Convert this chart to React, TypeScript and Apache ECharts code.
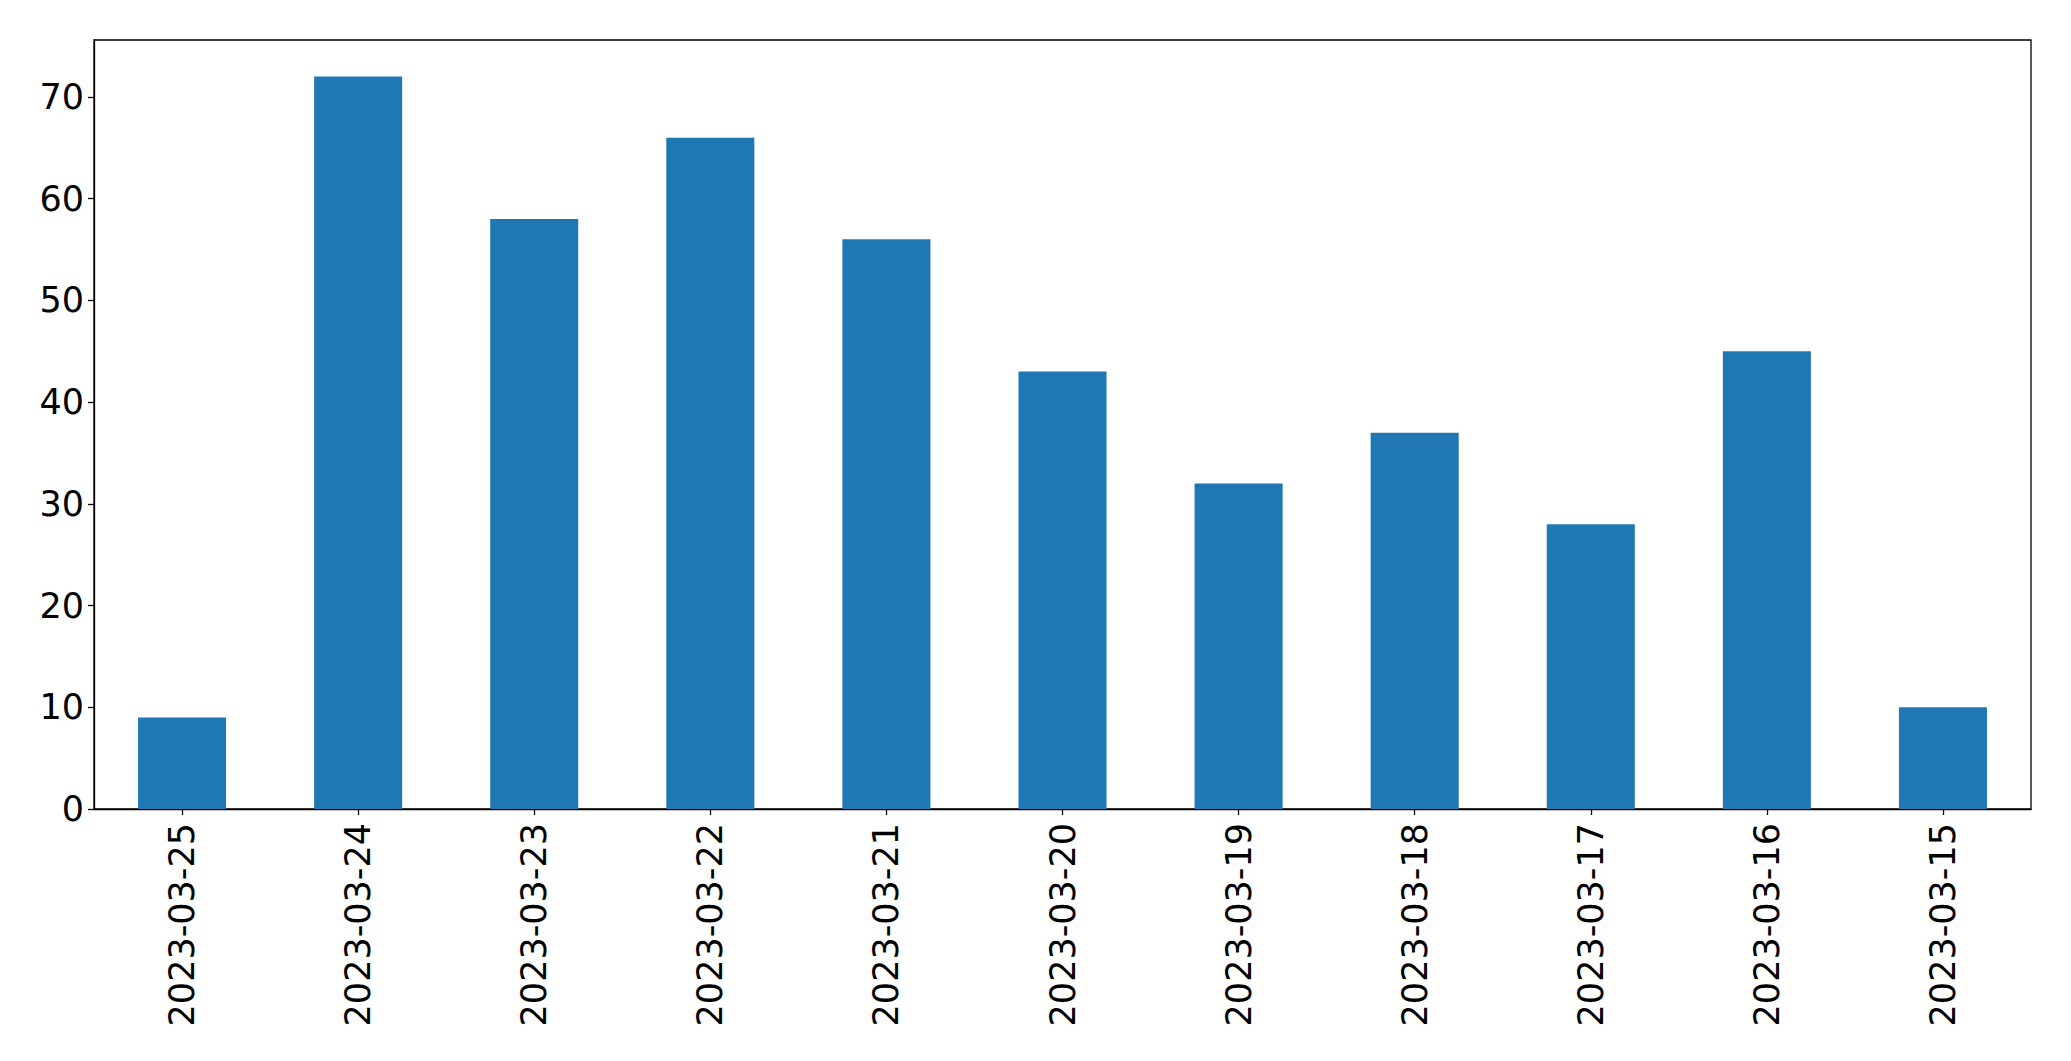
import React, { useEffect, useRef } from "react";
import * as echarts from "echarts";

const categories = [
  "2023-03-25", "2023-03-24", "2023-03-23", "2023-03-22", "2023-03-21", "2023-03-20",
  "2023-03-19", "2023-03-18", "2023-03-17", "2023-03-16", "2023-03-15",
];
const values = [9, 72, 58, 66, 56, 43, 32, 37, 28, 45, 10];
const yTicks = [0, 10, 20, 30, 40, 50, 60, 70];

export default function App() {
  const ref = useRef<HTMLDivElement>(null);
  useEffect(() => {
    if (!ref.current) return;
    const chart = echarts.init(ref.current, null, { renderer: "svg" });
    const font = "DejaVu Sans";
    chart.setOption({
      animation: false,
      backgroundColor: "#fff",
      grid: {
        left: 94,
        right: 40,
        top: 40,
        bottom: 252,
        show: true,
        borderColor: "#000",
        borderWidth: 1.3,
        containLabel: false,
      },
      xAxis: {
        type: "category",
        data: categories,
        boundaryGap: true,
        axisLine: { show: true, lineStyle: { color: "#000", width: 1.3 } },
        axisTick: { show: true, alignWithLabel: true, length: 6, lineStyle: { color: "#000", width: 1.3 } },
        axisLabel: {
          rotate: 90,
          interval: 0,
          fontSize: 35,
          fontFamily: font,
          color: "#000",
          margin: 14,
        },
        splitLine: { show: false },
      },
      yAxis: {
        type: "value",
        min: 0,
        max: 75.6,
        interval: 10,
        axisLine: { show: true, lineStyle: { color: "#000", width: 1.3 } },
        axisTick: { show: true, length: 6, customValues: yTicks, lineStyle: { color: "#000", width: 1.3 } },
        axisLabel: {
          fontSize: 35,
          fontFamily: font,
          color: "#000",
          margin: 10,
          customValues: yTicks,
        },
        splitLine: { show: false },
      },
      series: [
        {
          type: "bar",
          data: values,
          barWidth: "50%",
          itemStyle: { color: "#1f77b4" },
        },
      ],
    });
    return () => chart.dispose();
  }, []);
  return (
    <div
      ref={ref}
      style={{ position: "fixed", left: 0, top: 0, width: 2071, height: 1061, background: "#fff" }}
    />
  );
}
